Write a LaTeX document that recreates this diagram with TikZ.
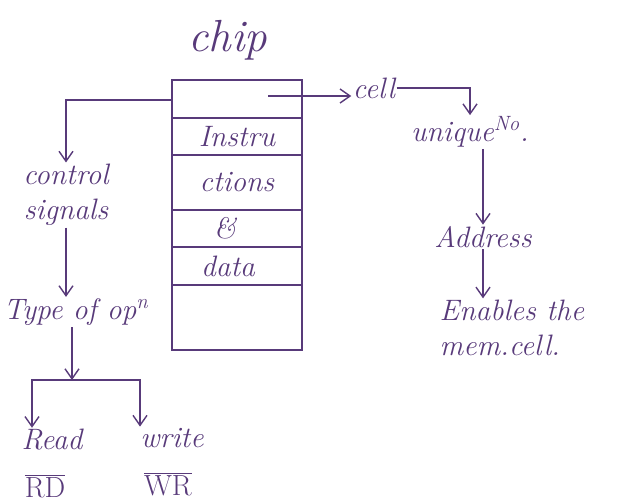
\documentclass[tikz,border=0pt]{standalone}
\usepackage{tikz}
\usetikzlibrary{arrows.meta}
\definecolor{ink}{RGB}{88,58,122}

\begin{document}
\begin{tikzpicture}[
    x=0.025cm, y=-0.025cm,
    hand/.style={text=ink, font=\fontsize{21}{25}\selectfont\itshape, inner sep=1pt},
    big_hand/.style={hand, font=\fontsize{32}{36}\selectfont\itshape},
    pen/.style={draw=ink, line width=1pt},
    directed/.style={pen, -{Straight Barb[length=2.5mm, width=3.5mm]}}
]
    \useasboundingbox (0,0) rectangle (635,501);
    % chip box
    \draw [pen] (172,80) rectangle (302,350);
    \foreach \y in {118,155,210,247,285}
        \draw [pen] (172,\y) -- (302,\y);
    \node[big_hand] (chip) at (228,40) {chip};
    \node[hand] (ins) at (237,137) {Instru};
    \node[hand] (cti) at (237,182) {ctions};
    \node[hand] (amp) at (225,228) {\&};
    \node[hand] (dat) at (228,266) {data};
    \coordinate (cR) at (268,96);
    \coordinate (cL) at (172,100);
    % right branch
    \node[hand] (cell) at (374,88) {cell};
    \node[hand] (uniq) at (470,132) {unique\textsuperscript{No}.};
    \node[hand] (addr) at (483,237) {Address};
    \node[hand, align=left, anchor=west] (enab) at (438,328) {Enables the\\mem.cell.};
    \draw [directed] (cR) -- (cR -| cell.west);
    \draw [directed] (cell.east) -| (uniq.north);
    \draw [directed] (uniq.south -| addr) -- (addr);
    \draw [directed] (addr) -- (enab.north -| addr);
    % left branch
    \node[hand, align=center] (ctrl) at (66,195) {control\\signals};
    \node[hand] (type) at (76,312) {Type of op\textsuperscript{n}};
    \node[hand] (read) at (52,440) {Read};
    \node[hand] (write) at (172,438) {write};
    \node[hand] (rd) at (45,486) {$\overline{\mathrm{RD}}$};
    \node[hand] (wr) at (168,484) {$\overline{\mathrm{WR}}$};
    \coordinate (split) at (72,380);
    \draw [directed] (cL) -| (ctrl.north);
    \draw [directed] (ctrl) -- (type.north -| ctrl);
    \draw [directed] (type.south -| split) -- (split);
    \draw [directed] (split) -| ([xshift=-0.5cm]read.north);
    \draw [directed] (split) -| ([xshift=-0.8cm]write.north);
\end{tikzpicture}
\end{document}
